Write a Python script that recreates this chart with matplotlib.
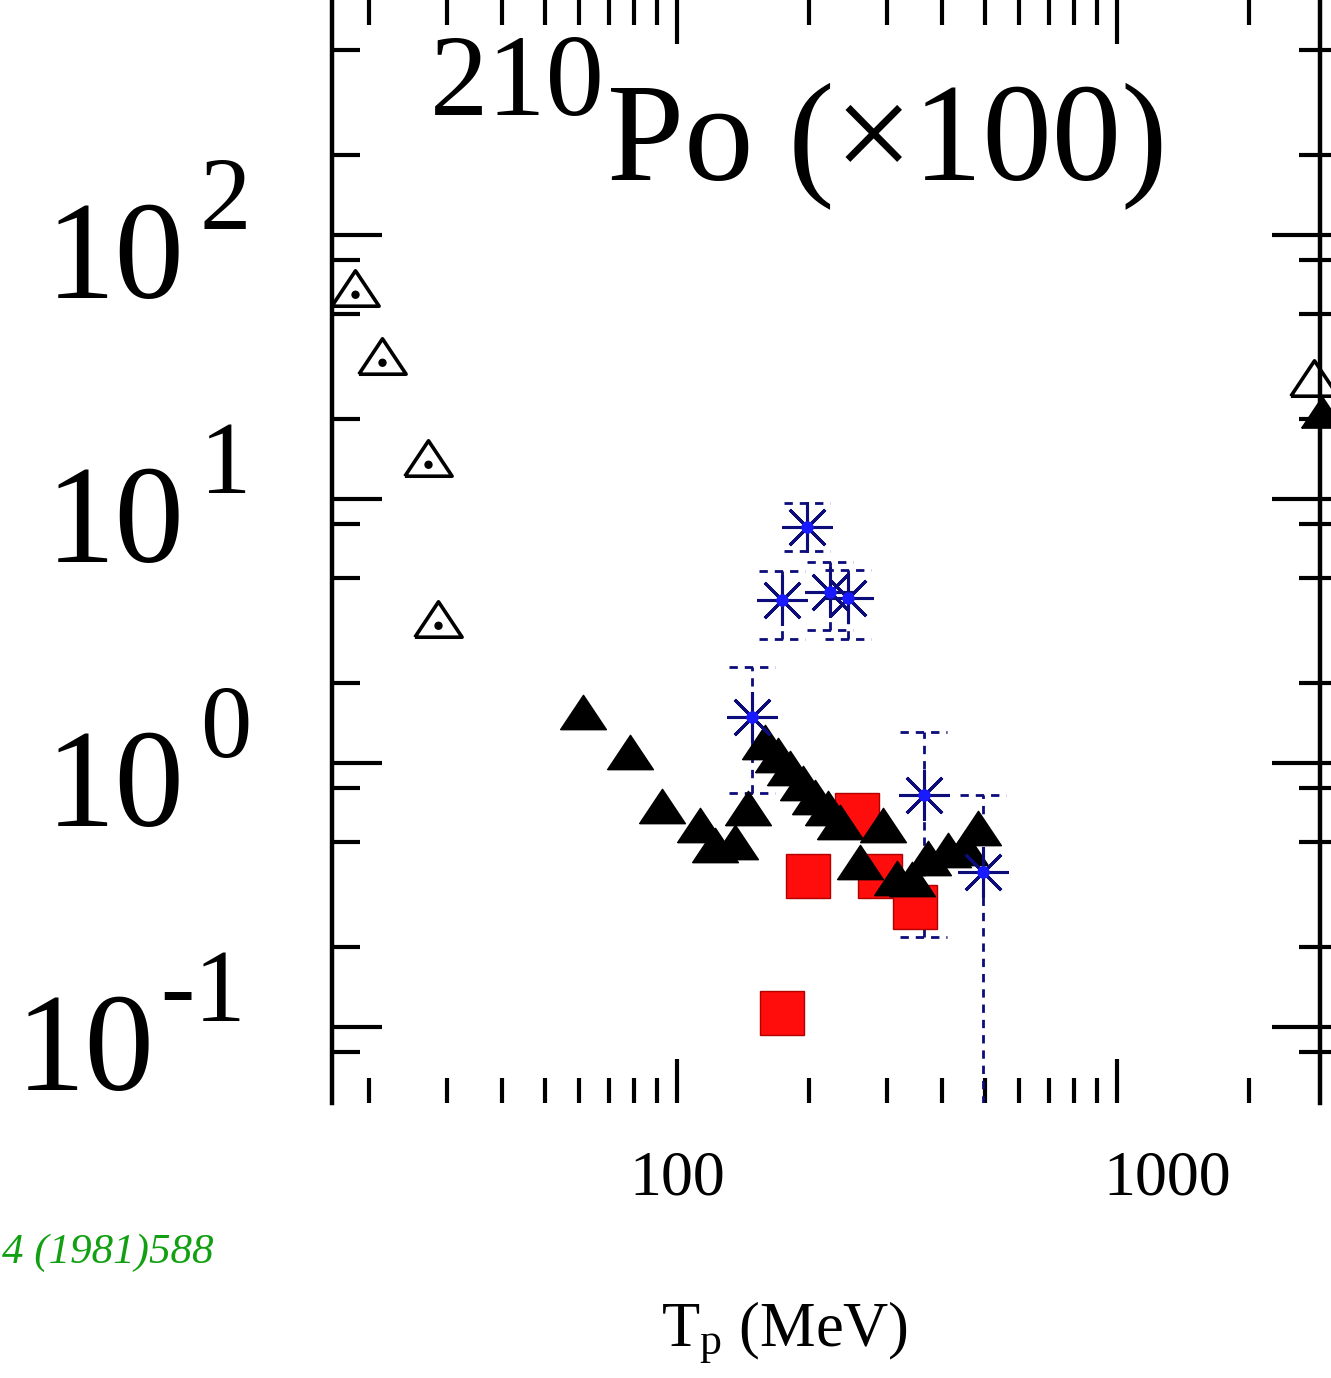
import matplotlib
matplotlib.use("Agg")
import numpy as np
import matplotlib.pyplot as plt
from matplotlib.ticker import FixedLocator, LogLocator, NullFormatter
from matplotlib.transforms import blended_transform_factory, offset_copy, Affine2D
from matplotlib.markers import MarkerStyle

plt.rcParams['font.family'] = ['Liberation Serif', 'DejaVu Serif']
plt.rcParams['mathtext.fontset'] = 'custom'
plt.rcParams['mathtext.rm'] = 'Liberation Serif'
plt.rcParams['mathtext.it'] = 'Liberation Serif:italic'

# open triangles (low energy data)
open_tp = [18.5, 21.4, 27.2, 28.6]
open_val = [63.0, 34.8, 14.3, 3.51]

# filled triangles
tri_tp = [61.1, 78.2, 92.5, 112.8, 122, 135.5, 145, 158.5, 169.6, 180.6, 193.3,
          206, 220, 234.6, 260.6, 294, 316, 342, 371.7, 413, 451, 483]
tri_val = [1.56, 1.10, 0.687, 0.582, 0.489, 0.502, 0.676, 1.20, 1.07, 0.957, 0.840,
           0.743, 0.676, 0.598, 0.422, 0.582, 0.367, 0.362, 0.437, 0.468, 0.477, 0.567]

# red squares
sq_tp = [173.3, 198.5, 256.5, 289, 347.5]
sq_val = [0.113, 0.373, 0.635, 0.373, 0.285]

# blue asterisks with error bars
ast_tp = [148, 197.4, 173.3, 222.7, 244.8, 364, 496]
ast_val = [1.49, 7.83, 4.14, 4.44, 4.22, 0.757, 0.387]
ast_lo = [0.769, 6.36, 2.95, 3.19, 2.95, 0.219, 0.02]
ast_hi = [2.31, 9.66, 5.34, 5.77, 5.39, 1.31, 0.757]

# markers cut off at the right edge
edge_open_tp = [2800]
edge_open_val = [28.7]
edge_fill_tp = [2920]
edge_fill_val = [21.4]

ytick_vals = [0.1, 1, 10, 100]
ytick_exps = ['-1', '0', '1', '2']

fig = plt.figure(figsize=(13.31, 13.78), dpi=100)
ax = fig.add_axes([0.2494, 0.1996, 0.7423, 0.8004])
ax.set_xscale('log')
ax.set_yscale('log')
ax.set_xlim(16.44, 2893)
ax.set_ylim(0.0515, 776)

tri = [(-1, -0.75), (1, -0.75), (0, 0.75), (-1, -0.75)]
navy = '#0c0c7a'

# error bars (dashed, with dashed caps)
for x, lo, hi in zip(ast_tp, ast_lo, ast_hi):
    ax.vlines(x, lo, hi, colors=navy, linestyles=(0, (3, 2.5)), lw=2, zorder=2)
    ax.hlines([lo, hi], x / 1.13, x * 1.13, colors=navy,
              linestyles=(0, (3, 2.5)), lw=2, zorder=2)

ax.plot(sq_tp, sq_val, 's', ms=32, mfc='#ff0d0d', mec='#b00000', mew=1,
        ls='none', zorder=3)
ax.plot(tri_tp, tri_val, marker=tri, ms=33, color='black', ls='none', zorder=4)
ax.plot(open_tp, open_val, marker=tri, ms=34, mfc='white', mec='black', mew=2.6,
        ls='none', zorder=4)
dot = MarkerStyle('o', transform=Affine2D().translate(0, -0.9))
ax.plot(open_tp, open_val, marker=dot, ms=5, color='black', ls='none', zorder=5)

ax.plot(ast_tp, ast_val, marker=(8, 2, 0), ms=36, mew=2.2, color=navy,
        ls='none', zorder=6)
ax.plot(ast_tp, ast_val, 'o', ms=8, color='#1a1aff', ls='none', zorder=7)

ax.plot(edge_open_tp, edge_open_val, marker=tri, ms=34, mfc='white', mec='black',
        mew=2.6, ls='none', clip_on=False, zorder=4)
ax.plot(edge_fill_tp, edge_fill_val, marker=tri, ms=30, color='black',
        ls='none', clip_on=False, zorder=4)

# x ticks
ax.xaxis.set_major_locator(FixedLocator([100, 1000]))
ax.xaxis.set_minor_locator(LogLocator(base=10, subs=np.arange(2, 10), numticks=30))
ax.xaxis.set_major_formatter(NullFormatter())
ax.xaxis.set_minor_formatter(NullFormatter())
ax.tick_params(axis='x', which='both', direction='in', top=True, bottom=True,
               width=3, color='black')
ax.tick_params(axis='x', which='major', length=32)
ax.tick_params(axis='x', which='minor', length=18)

# y ticks (labels drawn by hand below)
ax.yaxis.set_major_locator(FixedLocator(ytick_vals))
ax.yaxis.set_minor_locator(LogLocator(base=10, subs=(2, 5, 8), numticks=30))
ax.yaxis.set_major_formatter(NullFormatter())
ax.yaxis.set_minor_formatter(NullFormatter())
ax.tick_params(axis='y', which='both', direction='in', left=True, right=False, width=3)
ax.tick_params(axis='y', which='major', length=36)
ax.tick_params(axis='y', which='minor', length=20)

ax2 = ax.twinx()
ax2.set_yscale('log')
ax2.set_ylim(0.0515, 776)
ax2.yaxis.set_major_locator(FixedLocator(ytick_vals))
ax2.yaxis.set_minor_locator(LogLocator(base=10, subs=(2, 5, 8), numticks=30))
ax2.yaxis.set_major_formatter(NullFormatter())
ax2.yaxis.set_minor_formatter(NullFormatter())
ax2.tick_params(axis='y', which='both', direction='inout', width=3)
ax2.tick_params(axis='y', which='major', length=69)
ax2.tick_params(axis='y', which='minor', length=30)

for a in (ax, ax2):
    for s in ('top', 'bottom'):
        a.spines[s].set_visible(False)
ax.spines['right'].set_visible(False)
ax2.spines['left'].set_visible(False)
ax.spines['left'].set_linewidth(3.2)
ax2.spines['right'].set_linewidth(3.2)

# y tick labels: "10" with a raised exponent
ytrans = blended_transform_factory(ax.transAxes, ax.transData)
for val, ex in zip(ytick_vals, ytick_exps):
    base_x = 185 if ex != '-1' else 155
    ax.text((base_x - 332) / 988, val, '10', fontsize=100, ha='right', va='baseline',
            transform=offset_copy(ytrans, fig=fig, x=0, y=-63, units='dots'))
    ax.text((base_x + 15 - 332) / 988 if ex != '-1' else (base_x + 5 - 332) / 988,
            val, ex, fontsize=74, ha='left', va='baseline',
            transform=offset_copy(ytrans, fig=fig, x=0, y=6, units='dots'))

# x tick labels
trans = blended_transform_factory(ax.transData, ax.transAxes)
ax.text(100, -0.0834, '100', transform=trans, ha='center', va='baseline', fontsize=46)
ax.text(1000, -0.0834, '1000', transform=offset_copy(trans, fig=fig, x=50, y=0, units='dots'),
        ha='center', va='baseline', fontsize=46)

# titles and labels
fig.text(430 / 1331, 1 - 115 / 1378, '210', fontsize=84, va='baseline')
fig.text(607 / 1331, 1 - 180 / 1378, 'Po (\u00d7100)', fontsize=100, va='baseline')
fig.text(785 / 1331, 1 - 1345 / 1378, r'T$_{\mathrm{p}}$ (MeV)', fontsize=45,
         ha='center', va='baseline')
fig.text(2 / 1331, 1 - 1263 / 1378, '4 (1981)588', fontsize=31, style='italic',
         color='#12a012', va='baseline')

fig.savefig('out.png', dpi=100)
